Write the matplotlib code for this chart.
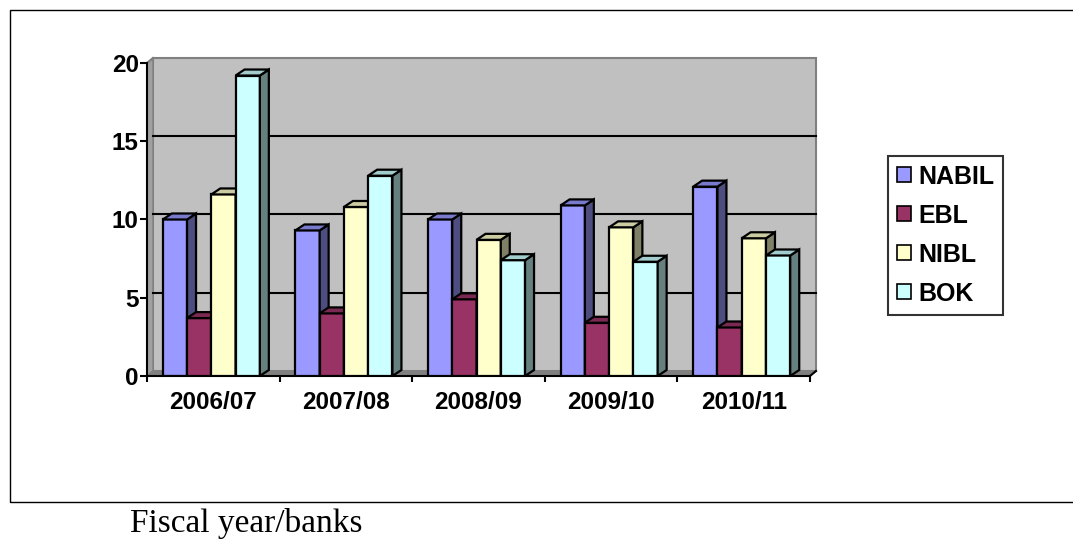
import matplotlib.pyplot as plt
from matplotlib.patches import Polygon, Rectangle, Patch

years = ["2006/07", "2007/08", "2008/09", "2009/10", "2010/11"]
banks = ["NABIL", "EBL", "NIBL", "BOK"]
nabil = [10.0, 9.3, 10.0, 10.9, 12.1]
ebl = [3.7, 4.0, 4.9, 3.4, 3.1]
nibl = [11.6, 10.8, 8.7, 9.5, 8.8]
bok = [19.2, 12.8, 7.4, 7.3, 7.7]

face_colors = ["#9999FF", "#993366", "#FFFFCC", "#CCFFFF"]
side_colors = ["#4D4D80", "#4D1A33", "#808066", "#668080"]
top_colors = ["#7A7ACC", "#7A2952", "#CCCCA3", "#A3CCCC"]

W, H = 1073, 541
fig = plt.figure(figsize=(W / 100, H / 100), dpi=100)

# axes placed in pixel units: y=0 at 376px, 15.65px per unit; 132.6px per category
px_unit_y = 15.65
px_cat = 132.6
ymax = 20.6
xmax = 4.58
ax_left, ax_bottom = 147, 376
ax = fig.add_axes([ax_left / W, (H - ax_bottom) / H,
                   (xmax + 0.5) * px_cat / W, ymax * px_unit_y / H])
ax.set_xlim(-0.5, xmax)
ax.set_ylim(0, ymax)
ax.patch.set_visible(False)

# depth offsets (data units) for back wall and bar boxes
wall_dx, wall_dy = 6 / px_cat, 5 / px_unit_y
bar_dx, bar_dy = 9 / px_cat, 6 / px_unit_y

# back wall, side wall, floor
x0, x1 = -0.5, 4.5
ax.add_patch(Polygon([(x0 + wall_dx, wall_dy), (x1 + wall_dx, wall_dy),
                      (x1 + wall_dx, 20 + wall_dy), (x0 + wall_dx, 20 + wall_dy)],
                     closed=True, fc="#C0C0C0", ec="#808080", lw=1.5, zorder=0))
ax.add_patch(Polygon([(x0, 0), (x0 + wall_dx, wall_dy), (x0 + wall_dx, 20 + wall_dy), (x0, 20)],
                     closed=True, fc="#A0A0A0", ec="#808080", lw=1, zorder=0.5))
ax.add_patch(Polygon([(x0, 0), (x1, 0), (x1 + wall_dx, wall_dy), (x0 + wall_dx, wall_dy)],
                     closed=True, fc="#808080", ec="#808080", lw=1, zorder=0.5))
for v in [5, 10, 15]:
    ax.plot([x0 + wall_dx, x1 + wall_dx], [v + wall_dy, v + wall_dy],
            color="black", lw=1.5, zorder=1)

# 3D-looking clustered columns
series = [nabil, ebl, nibl, bok]
bw = 0.183
shift = -0.015
for i in range(len(years)):
    for j, vals in enumerate(series):
        h = vals[i]
        left = i + shift + (j - 2) * bw
        right = left + bw
        z = 2 + i * 10 + j
        ax.bar(left, h, width=bw, align="edge", color=face_colors[j],
               edgecolor="black", lw=1.6, zorder=z)
        ax.add_patch(Polygon([(right, 0), (right + bar_dx, bar_dy),
                              (right + bar_dx, h + bar_dy), (right, h)],
                             closed=True, fc=side_colors[j], ec="black", lw=1.6, zorder=z))
        ax.add_patch(Polygon([(left, h), (left + bar_dx, h + bar_dy),
                              (right + bar_dx, h + bar_dy), (right, h)],
                             closed=True, fc=top_colors[j], ec="black", lw=1.6, zorder=z))

# axes lines and ticks
for s in ["top", "right"]:
    ax.spines[s].set_visible(False)
ax.spines["left"].set_bounds(0, 20)
ax.spines["bottom"].set_bounds(-0.5, 4.5)
ax.spines["left"].set_linewidth(1.5)
ax.spines["bottom"].set_linewidth(1.5)
ax.plot([x1, x1 + wall_dx], [0, wall_dy], color="black", lw=1.5, zorder=1, clip_on=False)
ax.plot([x0, x0 + wall_dx], [20, 20 + wall_dy], color="#808080", lw=1.5, zorder=1, clip_on=False)

ax.set_yticks([0, 5, 10, 15, 20])
ax.set_yticklabels(["0", "5", "10", "15", "20"], fontsize=17.5, fontweight="bold",
                   family="Liberation Sans")
ax.tick_params(axis="y", length=5, width=1.5, pad=1)
ax.set_xticks([-0.5, 0.5, 1.5, 2.5, 3.5, 4.5])
ax.set_xticklabels([])
ax.tick_params(axis="x", which="major", length=4, width=1.5)
ax.set_xticks(range(len(years)), minor=True)
ax.set_xticklabels(years, minor=True, fontsize=17.5, fontweight="bold",
                   family="Liberation Sans")
ax.tick_params(axis="x", which="minor", length=0, pad=11)

handles = [Patch(fc=c, ec="black", lw=1.2) for c in face_colors]
leg = fig.legend(handles, banks, loc="upper left",
                 bbox_to_anchor=(888 / W, 1 - 156 / H),
                 prop={"family": "Liberation Sans", "weight": "bold", "size": 18},
                 frameon=True, fancybox=False, borderaxespad=0, borderpad=0.35,
                 handlelength=0.55, handleheight=0.55, handletextpad=0.3,
                 labelspacing=0.6)
leg.get_frame().set_edgecolor("black")
leg.get_frame().set_linewidth(1.5)

# chart border (open on the right)
fig.add_artist(Rectangle((10 / W, 1 - 502 / H), 1100 / W, 492 / H,
                         transform=fig.transFigure, fill=False, ec="black", lw=1))

fig.text(130 / W, 1 - 532 / H, "Fiscal year/banks", family="Liberation Serif",
         fontsize=24, va="baseline", ha="left")

fig.savefig("out.png", dpi=100)
